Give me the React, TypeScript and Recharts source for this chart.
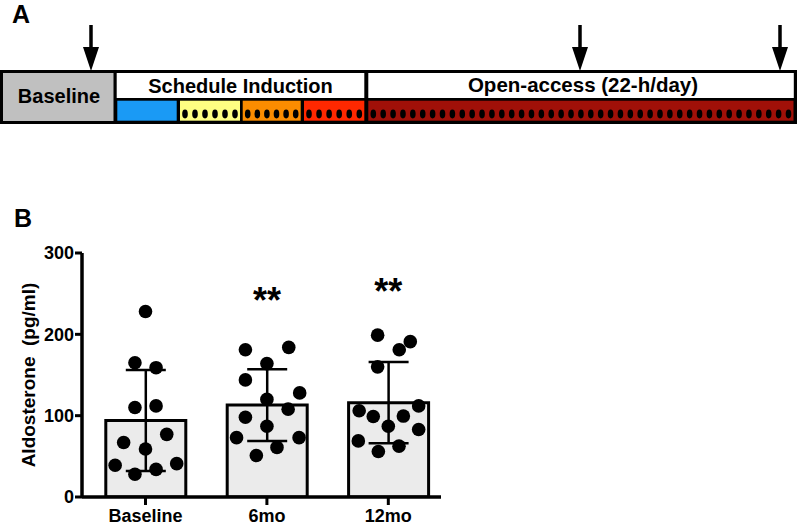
import React from 'react'
import {
  ComposedChart,
  Bar,
  Scatter,
  ErrorBar,
  XAxis,
  YAxis,
} from 'recharts'

const FONT = '"Liberation Sans", Arial, Helvetica, sans-serif'

// panel B data
const groups = ['Baseline', '6mo', '12mo']
const means = [94, 113, 116]
const sds = [62, 44, 50]
const sigMarks = ['', '**', '**']
const sigLevel = [0, 251, 263]

const baselineVals = [228, 165, 159, 110, 112, 67, 77, 59, 39, 28, 34, 41]
const baselineJitter = [0, -0.087, 0.087, -0.087, 0.087, -0.18, 0.175, 0, -0.25, -0.087, 0.087, 0.257]
const sixMoVals = [181, 184, 164, 144, 128, 120, 108, 98, 87, 73, 73, 61, 51]
const sixMoJitter = [-0.177, 0.18, 0, -0.177, 0.27, 0, 0.175, -0.177, 0, -0.25, 0.265, 0.083, -0.087]
const twelveMoVals = [199, 191, 181, 160, 112, 106, 99, 99.5, 87, 83, 69, 62.5, 56]
const twelveMoJitter = [-0.088, 0.181, 0.09, -0.088, 0.25, -0.24, -0.124, 0.124, 0, 0.25, -0.247, 0.088, -0.082]

// panel A timeline
const phaseNames = ['Baseline', 'Schedule Induction', 'Open-access (22-h/day)']
const segColors = ['#1a9af5', '#ffff82', '#fb8c00', '#ff2800', '#a01008']
const segDots = [0, 6, 6, 6, 43]

// layout for the schematic
const SEG_X = [
  [117.3, 176.7],
  [180, 240],
  [242.7, 300.7],
  [304, 364.3],
  [368.3, 793.5],
]
const ARROW_X = [91, 580, 780]

const barData = groups.map((g, i) => ({ name: g, mean: means[i], sd: sds[i] }))

const pointData = [
  ...baselineVals.map((v, i) => ({ x: 0 + baselineJitter[i], y: v })),
  ...sixMoVals.map((v, i) => ({ x: 1 + sixMoJitter[i], y: v })),
  ...twelveMoVals.map((v, i) => ({ x: 2 + twelveMoJitter[i], y: v })),
]

const sigData = sigMarks
  .map((m, i) => ({ x: i, y: sigLevel[i], label: m }))
  .filter((d) => d.label)

const DotShape = (props: any) => {
  if (props.cx == null || props.cy == null) return null
  return <circle cx={props.cx} cy={props.cy} r={6.8} fill="#000" />
}

const StarShape = (props: any) => {
  if (props.cx == null || props.cy == null) return null
  return (
    <text
      x={props.cx}
      y={props.cy + 20.5}
      textAnchor="middle"
      fontSize={36}
      fontWeight="bold"
      fontFamily={FONT}
      fill="#000"
    >
      {props.payload.label}
    </text>
  )
}

function Arrow({ x }: { x: number }) {
  return (
    <g>
      <line x1={x} y1={25} x2={x} y2={52} stroke="#000" strokeWidth={3.5} />
      <polygon points={`${x - 8},47 ${x + 8},47 ${x},71`} fill="#000" />
    </g>
  )
}

function Timeline() {
  return (
    <svg width={800} height={232} style={{ position: 'absolute', left: 0, top: 0 }}>
      <text x={12} y={23} fontSize={25} fontWeight="bold" fontFamily={FONT}>
        A
      </text>
      {ARROW_X.map((x) => (
        <Arrow key={x} x={x} />
      ))}
      <rect x={0} y={70} width={797} height={54} fill="#000" />
      <rect x={3} y={73} width={110.5} height={48} fill="#c0c0c0" />
      <rect x={116.7} y={73} width={247.6} height={25} fill="#fff" />
      <rect x={368.3} y={73} width={425.5} height={25} fill="#fff" />
      {segColors.map((c, i) => {
        const [x0, x1] = SEG_X[i]
        const n = segDots[i]
        const step = n > 1 ? (x1 - x0 - 10) / (n - 1) : 0
        return (
          <g key={i}>
            <rect x={x0} y={100.7} width={x1 - x0} height={20} fill={c} />
            {Array.from({ length: n }).map((_, k) => (
              <ellipse key={k} cx={x0 + 5 + k * step} cy={114} rx={2.8} ry={4.4} fill="#000" />
            ))}
          </g>
        )
      })}
      <text x={59} y={103} textAnchor="middle" fontSize={20} fontWeight="bold" fontFamily={FONT}>
        {phaseNames[0]}
      </text>
      <text x={240.5} y={92.5} textAnchor="middle" fontSize={20} fontWeight="bold" fontFamily={FONT}>
        {phaseNames[1]}
      </text>
      <text x={583} y={92} textAnchor="middle" fontSize={20.5} fontWeight="bold" fontFamily={FONT}>
        {phaseNames[2]}
      </text>
      <text x={14} y={227} fontSize={25} fontWeight="bold" fontFamily={FONT}>
        B
      </text>
    </svg>
  )
}

const tickStyle = { fill: '#000', fontSize: 18, fontWeight: 'bold', fontFamily: FONT }

export default function App() {
  return (
    <div style={{ position: 'absolute', left: 0, top: 0, width: 800, height: 525, background: '#fff' }}>
      <Timeline />
      <div style={{ position: 'absolute', left: 0, top: 230 }}>
        <ComposedChart
          width={460}
          height={295}
          data={barData}
          margin={{ top: 23, right: 19, bottom: 0, left: 0 }}
        >
          <XAxis
            xAxisId="num"
            type="number"
            dataKey="x"
            domain={[-0.523, 2.434]}
            ticks={[0, 1, 2]}
            interval={0}
            allowDataOverflow
            tickFormatter={(v: number) => groups[v] ?? ''}
            axisLine={{ stroke: '#000', strokeWidth: 3.5 }}
            tickLine={{ stroke: '#000', strokeWidth: 3 }}
            tickSize={8}
            tickMargin={4}
            tick={tickStyle}
            height={28}
          />
          <XAxis
            xAxisId="cat"
            type="category"
            dataKey="name"
            hide
            height={0}
            padding={{ left: 2.8, right: -8 }}
          />
          <YAxis
            type="number"
            domain={[0, 300]}
            ticks={[0, 100, 200, 300]}
            interval={0}
            allowDataOverflow
            axisLine={{ stroke: '#000', strokeWidth: 3.5 }}
            tickLine={{ stroke: '#000', strokeWidth: 3 }}
            tickSize={7}
            tickMargin={1}
            tick={tickStyle}
            width={82}
            label={{
              value: 'Aldosterone\u00a0\u00a0(pg/ml)',
              angle: -90,
              position: 'center',
              dx: -13,
              style: { fill: '#000', fontSize: 19, fontWeight: 'bold', fontFamily: FONT },
            }}
          />
          <Bar
            xAxisId="cat"
            dataKey="mean"
            barSize={80}
            fill="#ebebeb"
            stroke="#000"
            strokeWidth={3}
            isAnimationActive={false}
          >
            <ErrorBar dataKey="sd" width={20} stroke="#000" strokeWidth={2.5} direction="y" />
          </Bar>
          <Scatter xAxisId="num" data={pointData} dataKey="y" shape={DotShape} isAnimationActive={false} />
          <Scatter xAxisId="num" data={sigData} dataKey="y" shape={StarShape} isAnimationActive={false} />
        </ComposedChart>
      </div>
    </div>
  )
}
